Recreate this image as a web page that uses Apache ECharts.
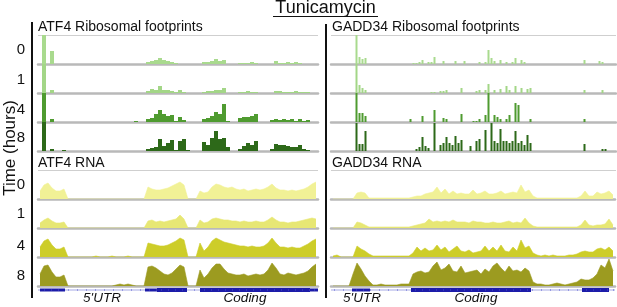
<!DOCTYPE html>
<html>
<head>
<meta charset="utf-8">
<script src="https://cdn.jsdelivr.net/npm/echarts@6/dist/echarts.min.js"></script>
<style>
  html, body { margin: 0; padding: 0; background: #fff; }
  #main { width: 617px; height: 307px; }
</style>
</head>
<body>
<div id="main"></div>
<script>
// time points (hours), one track per time point
var timeLabels = ['0', '1', '4', '8'];

// ATF4 ribosome footprints, 70 bins along the transcript
var atf4Ribo0 = [0,40,0,13,0,0,0,0,0,0, 0,0,0,0,0,0,0,0,0,0, 0,0,0,0,0,0,0,2,3,4, 6,4,3,2,1,0,0,0,0,0, 0,2,2,3,5,3,4,0,0,0, 1,1,1,2,1,0,0,0,0,3, 1,1,2,1,2,1,0,0,0,0];
var atf4Ribo1 = [0,40,0,3,0,0,0,0,0,0, 0,0,0,0,0,0,0,0,0,0, 0,0,0,0,0,0,0,2,4,3, 7,3,3,2,1,3,1,0,0,0, 0,1,2,2,3,3,5,0,0,0, 1,1,2,1,1,0,0,0,0,2, 2,1,1,1,2,1,1,1,0,0];
var atf4Ribo4 = [0,40,0,3,0,0,0,0,0,0, 0,0,0,0,0,0,0,0,0,0, 0,0,0,0,1,0,0,3,4,8, 12,8,6,7,1,5,2,0,0,0, 0,3,4,6,10,8,18,1,0,0, 4,5,5,6,8,0,0,0,2,3, 2,3,2,3,1,3,1,2,0,0];
var atf4Ribo8 = [0,40,0,2,0,0,1,0,0,0, 0,0,0,0,0,0,0,0,0,0, 0,0,0,0,0,0,0,2,3,4, 12,5,8,11,1,10,12,1,0,0, 0,9,6,13,20,12,13,4,0,0, 2,5,8,6,10,0,0,0,2,7, 6,6,5,4,4,6,2,1,0,0];

// ATF4 RNA, 70 bins
var atf4Rna0 = [8,14,16,11,8,8,10,0,0,0, 0,0,0,0,0,0,0,0,0,0, 0,0,0,0,0,0,0,12,10,9, 9,10,11,13,15,17,14,0,0,0, 8,6,7,12,15,14,12,11,12,10, 9,10,8,9,10,9,10,12,15,11, 9,9,8,9,8,9,10,12,15,17];
var atf4Rna1 = [5,8,10,7,5,5,6,0,0,0, 0,0,0,0,0,0,0,0,0,0, 0,0,0,0,0,0,0,7,8,6, 7,6,7,8,9,13,9,0,0,0, 8,5,6,9,10,9,8,8,7,7, 6,7,6,6,7,6,6,8,11,8, 6,6,5,6,6,7,8,9,10,9];
var atf4Rna4 = [10,16,18,12,8,8,10,0,0,0, 0,0,0,0,1,0,0,0,1,0, 0,0,1,0,0,0,0,14,13,12, 11,11,12,14,16,19,17,0,0,0, 14,6,10,16,19,17,15,14,13,12, 11,11,10,11,10,10,11,14,19,14, 10,10,9,10,9,9,11,13,16,18];
var atf4Rna8 = [12,20,21,14,9,9,11,0,0,0, 0,0,0,0,0,0,0,0,0,1, 2,1,2,1,0,0,0,19,20,18, 15,12,11,13,17,21,19,0,0,0, 16,8,12,18,22,22,17,13,12,11, 11,12,10,11,12,11,12,16,23,18, 12,11,13,12,11,12,13,15,19,22];

// GADD34 ribosome footprints, 95 bins
var gaddRibo0 = [0,0,0,0,0,0,0,0,30,7, 5,6,0,0,0,0,0,0,0,0, 0,0,0,0,0,0,0,1,1,2, 4,0,2,2,7,0,0,3,0,0, 0,3,0,0,3,0,0,0,0,2, 0,2,14,6,3,0,4,0,2,0, 2,6,0,4,2,0,0,0,0,0, 0,0,0,0,0,0,0,0,0,0, 0,0,0,0,4,0,0,0,0,3, 2,0,0,0,0];
var gaddRibo1 = [0,0,0,0,0,0,0,0,30,8, 5,3,0,0,0,0,0,0,0,0, 0,0,0,0,0,0,0,0,0,0, 0,0,0,1,1,0,2,2,3,0, 0,0,0,5,0,0,0,0,2,3, 0,3,9,0,3,0,4,0,7,3, 0,7,0,5,0,4,5,0,0,0, 0,0,0,0,0,0,0,0,0,0, 0,0,0,0,3,0,0,0,0,0, 3,0,0,0,0];
var gaddRibo4 = [0,0,0,0,0,0,0,0,30,9, 9,6,0,0,0,0,0,0,0,0, 0,0,0,0,0,0,3,0,0,0, 6,0,0,0,12,0,0,4,3,0, 0,0,0,8,0,0,0,1,1,3, 0,7,30,0,7,5,3,0,3,7, 0,19,17,0,0,0,3,0,0,0, 0,0,0,0,0,0,0,0,0,0, 0,0,0,0,3,0,0,0,0,0, 0,0,0,0,0];
var gaddRibo8 = [0,0,0,0,0,0,0,0,28,7, 7,20,0,0,0,0,0,0,0,0, 0,0,0,0,0,0,0,0,2,4, 14,5,3,0,28,0,6,8,14,8, 6,15,8,11,0,0,5,0,10,12, 0,21,0,28,10,8,22,10,10,8, 10,20,8,10,6,16,8,0,0,0, 0,0,0,0,0,0,0,0,0,0, 0,0,0,0,7,0,0,0,0,0, 2,2,0,0,0];

// GADD34 RNA, 71 bins
var gaddRna0 = [0,0,0,0,0,0,6,7,6,1, 1,1,1,1,1,1,1,1,1,1, 2,3,3,5,6,7,12,6,10,5, 8,5,6,5,5,9,5,6,8,5, 5,6,8,5,6,7,6,14,7,9, 3,1,1,1,1,1,1,1,1,1, 1,1,3,8,3,3,7,5,6,8, 4];
var gaddRna1 = [0,0,0,0,0,0,6,5,3,1, 1,1,1,1,1,1,1,1,1,1, 2,3,4,5,9,6,7,6,7,6, 8,6,6,6,5,7,6,6,5,5, 6,5,5,6,7,5,6,5,10,5, 2,1,1,1,1,1,1,1,1,1, 1,1,3,8,3,2,3,3,4,9, 3];
var gaddRna4 = [1,2,0,0,0,0,11,8,6,3, 1,1,1,1,1,1,1,1,1,1, 4,10,6,9,6,7,12,7,10,5, 8,11,6,5,7,4,5,6,11,6, 10,6,12,6,5,10,6,17,9,11, 4,2,1,2,1,2,1,1,1,2, 2,3,5,6,5,5,8,9,7,10, 6];
var gaddRna8 = [0,0,0,0,0,12,23,17,10,5, 1,1,2,1,1,1,1,2,2,2, 12,14,15,13,14,20,24,16,18,22, 15,14,20,13,14,15,16,12,17,14, 20,23,18,14,20,15,16,14,18,15, 4,2,2,1,1,2,3,2,1,2, 3,4,7,6,6,8,12,21,18,27, 15];

// gene models: [start bin, end bin, part]
var atf4Gene = [[0, 70, 'intron'], [0.5, 6.75, 'utr'], [26.75, 29.75, 'utr'], [29.75, 37.25, 'cds'], [40.5, 68, 'cds'], [68, 70, 'utr']];
var gaddGene = [[0, 71, 'intron'], [5.25, 9.75, 'utr'], [20, 50, 'cds'], [62.75, 69.5, 'cds']];

var riboColors = ['#a9da8e', '#a3d687', '#4f9b30', '#2d6919'];
var rnaColors = ['#f1f196', '#e7e774', '#cdcd29', '#9c9b20'];

var font = '"Liberation Sans", Arial, sans-serif';
var yMax = 29;
var riboBase = [64, 93, 122, 151];
var rnaBase = [199, 228, 257, 286];

var grids = [], xAxes = [], yAxes = [], series = [];

function addTrack(left, width, baseline, values, color, kind) {
  var k = grids.length;
  grids.push({ left: left, top: baseline - yMax, width: width, height: yMax });
  xAxes.push({
    gridIndex: k, type: 'category', boundaryGap: true,
    data: values.map(function (v, i) { return i; }),
    axisLine: { show: true, lineStyle: { color: '#b9b9b9', width: 2.5 } },
    axisTick: { show: false }, axisLabel: { show: false }, splitLine: { show: false }
  });
  yAxes.push({ gridIndex: k, type: 'value', min: 0, max: yMax, show: false });
  var s = { xAxisIndex: k, yAxisIndex: k, data: values, silent: true, clip: true, z: 1 };
  if (kind === 'line') {
    s.type = 'line';
    s.symbol = 'none';
    s.lineStyle = { width: 0.6, color: color };
    s.areaStyle = { color: color, opacity: 1 };
  } else {
    s.type = 'bar';
    s.itemStyle = { color: color };
    if (kind === 'spike') s.barWidth = 2; else s.barCategoryGap = '0%';
  }
  series.push(s);
}

[atf4Ribo0, atf4Ribo1, atf4Ribo4, atf4Ribo8].forEach(function (d, i) {
  addTrack(38, 280, riboBase[i], d, riboColors[i], 'bar');
});
[atf4Rna0, atf4Rna1, atf4Rna4, atf4Rna8].forEach(function (d, i) {
  addTrack(38, 280, rnaBase[i], d, rnaColors[i], 'line');
});
[gaddRibo0, gaddRibo1, gaddRibo4, gaddRibo8].forEach(function (d, i) {
  addTrack(331, 285, riboBase[i], d, riboColors[i], 'spike');
});
[gaddRna0, gaddRna1, gaddRna4, gaddRna8].forEach(function (d, i) {
  addTrack(331, 284, rnaBase[i], d, rnaColors[i], 'line');
});

function addGene(left, width, bins, parts) {
  var k = grids.length;
  grids.push({ left: left, top: 284, width: width, height: 12 });
  xAxes.push({ gridIndex: k, type: 'value', min: 0, max: bins, show: false });
  yAxes.push({ gridIndex: k, type: 'value', min: 0, max: 1, show: false });
  series.push({
    type: 'custom', xAxisIndex: k, yAxisIndex: k, silent: true,
    data: parts.map(function (p) { return [p[0], p[1]]; }),
    renderItem: function (params, api) {
      var part = parts[params.dataIndex][2];
      var a = api.coord([api.value(0), 0.5]);
      var b = api.coord([api.value(1), 0.5]);
      if (part === 'intron') {
        // thin line with small strand ticks
        return {
          type: 'group', children: [
            { type: 'line', shape: { x1: a[0], y1: a[1], x2: b[0], y2: b[1] }, style: { stroke: '#c3c6ee', lineWidth: 1.5 } },
            { type: 'line', shape: { x1: a[0] + 3, y1: a[1], x2: b[0], y2: b[1] }, style: { stroke: '#5a5ccf', lineWidth: 1, lineDash: [1, 8] } }
          ]
        };
      }
      var h = part === 'cds' ? 4 : 3;
      return {
        type: 'group', children: [
          { type: 'rect', shape: { x: a[0], y: a[1] - h / 2, width: b[0] - a[0], height: h }, style: { fill: '#1c1ca9' } },
          { type: 'line', shape: { x1: a[0] + 4, y1: a[1], x2: b[0], y2: b[1] }, style: { stroke: '#4a4acb', lineWidth: 1, lineDash: [1, 6] } }
        ]
      };
    }
  });
}
addGene(38, 280, 70, atf4Gene);
addGene(331, 284, 71, gaddGene);

function txt(x, y, s, size, opts) {
  var o = opts || {};
  return {
    type: 'text', x: x, y: y, rotation: o.rotation || 0, silent: true,
    style: {
      text: s, fill: '#111', font: (o.italic ? 'italic ' : '') + size + 'px ' + font,
      textAlign: o.align || 'left', textVerticalAlign: 'middle'
    }
  };
}
function ln(x1, y1, x2, y2, color, w) {
  return { type: 'line', silent: true, shape: { x1: x1, y1: y1, x2: x2, y2: y2 }, style: { stroke: color, lineWidth: w } };
}

var graphics = [
  txt(325.5, 8, 'Tunicamycin', 18, { align: 'center' }),
  ln(273, 16.5, 378, 16.5, '#111', 1),
  txt(10, 148, 'Time (hours)', 17, { align: 'center', rotation: Math.PI / 2 }),
  ln(32, 22, 32, 298, '#111', 2),
  ln(326, 24, 326, 298, '#111', 2),
  ln(38, 35.5, 318, 35.5, '#cfcfcf', 1),
  ln(331, 35.5, 616, 35.5, '#cfcfcf', 1),
  ln(38, 170.5, 318, 170.5, '#cfcfcf', 1),
  ln(331, 170.5, 616, 170.5, '#cfcfcf', 1),
  txt(38, 27, 'ATF4 Ribosomal footprints', 14),
  txt(332, 27, 'GADD34 Ribosomal footprints', 14),
  txt(38, 163, 'ATF4 RNA', 14),
  txt(332, 163, 'GADD34 RNA', 14),
  txt(102, 298, "5'UTR", 13.5, { align: 'center', italic: true }),
  txt(245, 298, 'Coding', 13.5, { align: 'center', italic: true }),
  txt(362, 298, "5'UTR", 13.5, { align: 'center', italic: true }),
  txt(476, 298, 'Coding', 13.5, { align: 'center', italic: true })
];
var riboLabelY = [50, 80, 110, 138];
var rnaLabelY = [185, 214, 246, 276];
timeLabels.forEach(function (t, i) {
  graphics.push(txt(21, riboLabelY[i], t, 15, { align: 'center' }));
  graphics.push(txt(21, rnaLabelY[i], t, 15, { align: 'center' }));
});

var myChart = echarts.init(document.getElementById('main'), null, { renderer: 'canvas' });
var option = {
  animation: false,
  backgroundColor: '#fff',
  grid: grids,
  xAxis: xAxes,
  yAxis: yAxes,
  series: series,
  graphic: graphics
};
myChart.setOption(option);
window.addEventListener('resize', myChart.resize);
</script>
</body>
</html>
